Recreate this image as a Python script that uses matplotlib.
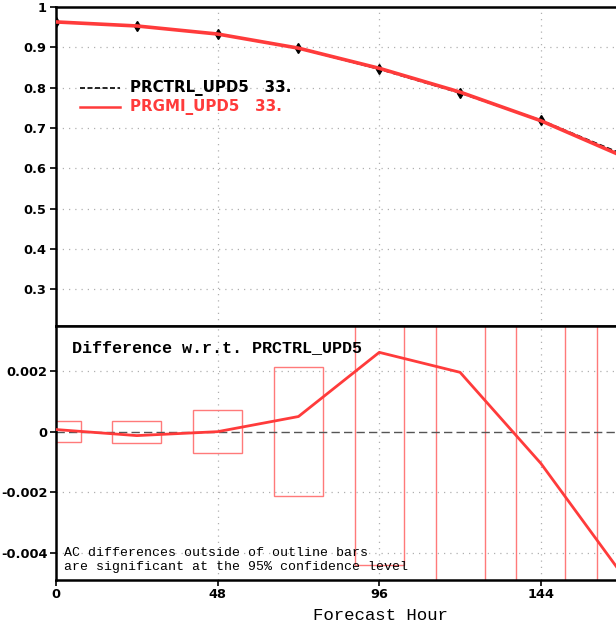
import numpy as np
import matplotlib
matplotlib.use("Agg")
import matplotlib.pyplot as plt
from matplotlib.patches import Rectangle

plt.rcParams["axes.unicode_minus"] = False

# forecast hours and anomaly correlation
hours = [0, 24, 48, 72, 96, 120, 144, 168]
ac_ctrl = [0.963, 0.953, 0.933, 0.898, 0.846, 0.787, 0.719, 0.636]
ac_gmi = [0.963, 0.953, 0.933, 0.898, 0.848, 0.789, 0.718, 0.631]

# difference (PRGMI - PRCTRL) and 95% confidence half-widths
diff = [0.00007, -0.00013, 0.0, 0.0005, 0.00262, 0.00196, -0.00105, -0.0047]
conf = [0.00035, 0.00036, 0.0007, 0.00214, 0.0044, 0.009, 0.009, 0.009]

yticks_top = [0.3, 0.4, 0.5, 0.6, 0.7, 0.8, 0.9, 1.0]
ytick_labels_top = ["0.3", "0.4", "0.5", "0.6", "0.7", "0.8", "0.9", "1"]
yticks_bot = [-0.004, -0.002, 0, 0.002]
ytick_labels_bot = ["-0.004", "-0.002", "0", "0.002"]
xticks = [0, 48, 96, 144]

red = "#ff3b3b"
boxred = "#ff7a7a"
grid_kw = dict(color="#b0b0b0", linestyle=(0, (1, 4)), linewidth=0.9)
tick_font = dict(fontfamily="DejaVu Sans", fontweight="bold", fontsize=9.3)
xmax = 166.3

fig = plt.figure(figsize=(6.16, 6.26), dpi=100)
ax1 = fig.add_axes([0.0909, 0.4792, 1 - 0.0909, 0.9888 - 0.4792])
ax2 = fig.add_axes([0.0909, 0.0735, 1 - 0.0909, 0.4792 - 0.0735])

# top panel
ax1.plot(hours, ac_ctrl, color="black", linestyle=(0, (3, 1.5)), linewidth=1.3,
         marker="d", markersize=5, zorder=3)
ax1.plot(hours, ac_gmi, color=red, linewidth=2.6, zorder=4)
ax1.set_xlim(0, xmax)
ax1.set_ylim(0.209, 1.0)
ax1.set_yticks(yticks_top)
ax1.set_yticklabels(ytick_labels_top, **tick_font)
ax1.set_xticks(xticks)
ax1.tick_params(axis="x", length=0, labelbottom=False)
ax1.tick_params(axis="y", direction="out", length=4, width=1.2, pad=3)
for y in yticks_top[:-1]:
    ax1.axhline(y, **grid_kw, zorder=1)
for x in xticks[1:]:
    ax1.axvline(x, **grid_kw, zorder=1)

# legend drawn by hand
fig.add_artist(plt.Line2D([80 / 616, 120 / 616], [1 - 88 / 626, 1 - 88 / 626],
                          color="black", linestyle=(0, (3, 1.5)), linewidth=1.2))
fig.add_artist(plt.Line2D([80 / 616, 120 / 616], [1 - 107 / 626, 1 - 107 / 626],
                          color=red, linewidth=1.8))
fig.text(130 / 616, 1 - 88 / 626, "PRCTRL_UPD5   33.", va="center", ha="left",
         color="black", fontsize=10.8, fontfamily="DejaVu Sans", fontweight="bold")
fig.text(130 / 616, 1 - 107 / 626, "PRGMI_UPD5   33.", va="center", ha="left",
         color=red, fontsize=10.8, fontfamily="DejaVu Sans", fontweight="bold")

# bottom panel
for h, c in zip(hours, conf):
    ax2.add_patch(Rectangle((h - 7.3, -c), 14.6, 2 * c, fill=False,
                            edgecolor=boxred, linewidth=1.0, zorder=2))
ax2.axhline(0, color="#555555", linestyle=(0, (6, 3)), linewidth=1.0, zorder=2)
ax2.plot(hours, diff, color=red, linewidth=2.0, zorder=4)
ax2.set_xlim(0, xmax)
ax2.set_ylim(-0.0049, 0.00349)
ax2.set_yticks(yticks_bot)
ax2.set_yticklabels(ytick_labels_bot, **tick_font)
ax2.set_xticks(xticks)
ax2.set_xticklabels([str(x) for x in xticks], **tick_font)
ax2.tick_params(axis="both", direction="out", length=4, width=1.2, pad=2)
for y in yticks_bot:
    if y != 0:
        ax2.axhline(y, **grid_kw, zorder=1)
for x in xticks[1:]:
    ax2.axvline(x, **grid_kw, zorder=1)

ax2.text(0.028, 0.915, "Difference w.r.t. PRCTRL_UPD5", transform=ax2.transAxes,
         fontfamily="Liberation Mono", fontweight="bold", fontsize=12.1,
         va="center", ha="left")
ax2.text(0.015, 0.105, "AC differences outside of outline bars", transform=ax2.transAxes,
         fontfamily="Liberation Mono", fontsize=9.5, va="center", ha="left")
ax2.text(0.015, 0.052, "are significant at the 95% confidence level", transform=ax2.transAxes,
         fontfamily="Liberation Mono", fontsize=9.5, va="center", ha="left")

fig.text(380 / 616, 1 - 616 / 626, "Forecast Hour", fontfamily="Liberation Mono",
         fontsize=12.5, ha="center", va="center")

for ax in (ax1, ax2):
    for s in ax.spines.values():
        s.set_linewidth(1.8)
    ax.spines["right"].set_visible(False)

fig.savefig("out.png", dpi=100)
